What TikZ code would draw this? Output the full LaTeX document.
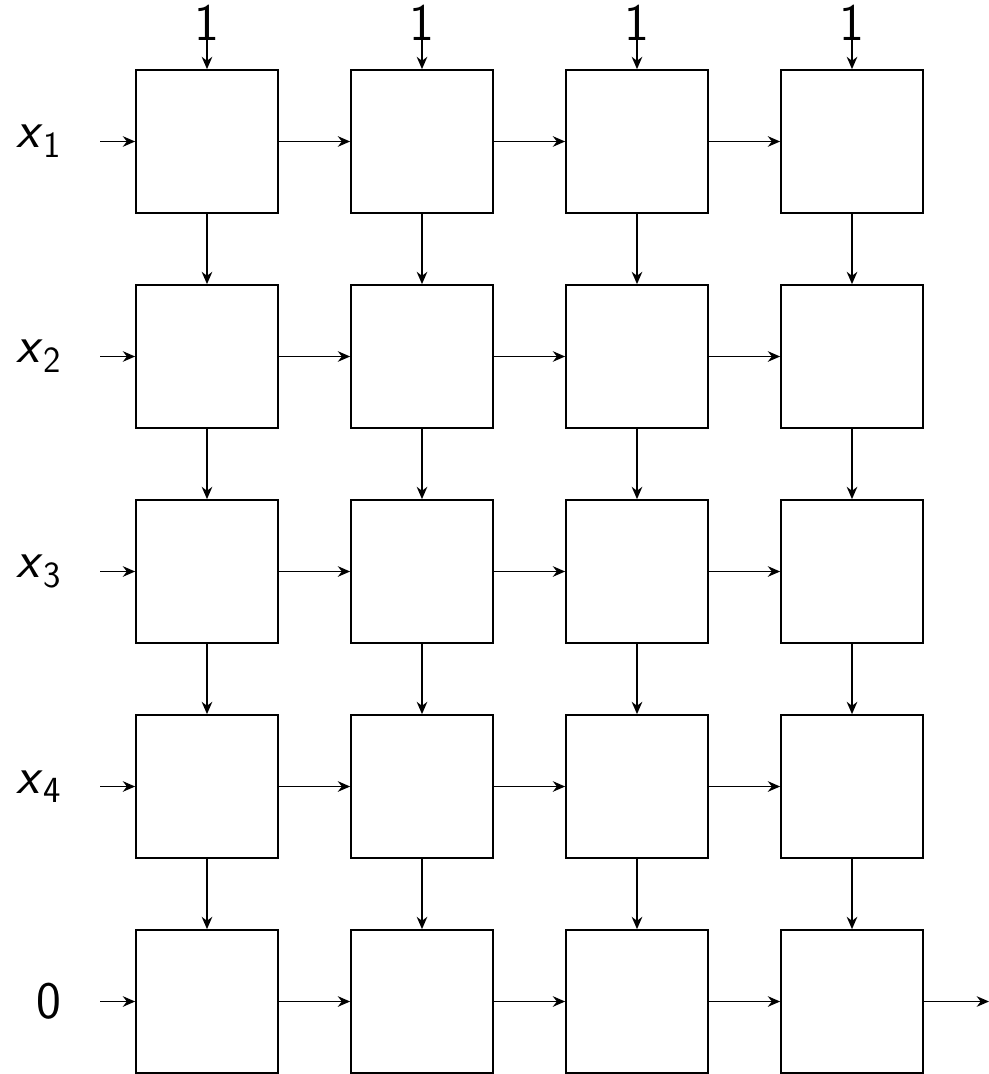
\documentclass[tikz,border=0pt]{standalone}
\usepackage{tikz}
\usetikzlibrary{arrows.meta}

\tikzset{
  cell/.style={draw, line width=1pt, minimum width=2.84cm, minimum height=2.86cm, inner sep=0pt},
  flow/.style={-{Stealth[length=7pt,width=6pt]}, line width=1pt},
  lab/.style={font=\fontsize{30}{36}\selectfont\sffamily, inner sep=0pt}
}
\newcommand{\xin}[1]{\textsl{x}\textsubscript{#1}}

\begin{document}
\begin{tikzpicture}[x=0.02cm, y=-0.02cm]
    \useasboundingbox (0,0) rectangle (989,1074);

    % grid of cells
    \foreach \r in {1,...,5} {
        \foreach \c in {1,...,4} {
            \node[cell] (c\r\c) at ({207+215*(\c-1)},{141.5+215*(\r-1)}) {};
        }
    }

    % top inputs
    \foreach \c in {1,...,4} {
        \node[lab] (one\c) at ({207+215*(\c-1)},23) {1};
        \coordinate (t\c) at ({207+215*(\c-1)},8);
        \draw[flow] (t\c) -- (c1\c.north);
    }

    % left inputs
    \foreach \r/\label in {1/\xin{1}, 2/\xin{2}, 3/\xin{3}, 4/\xin{4}, 5/0} {
        \node[lab, anchor=east] (in\r) at (62,{141.5+215*(\r-1)}) {\label};
        \coordinate (l\r) at (100,{141.5+215*(\r-1)});
        \draw[flow] (l\r) -- (c\r1.west);
    }

    % links between cells
    \foreach \r in {1,...,5} {
        \foreach \c/\n in {1/2, 2/3, 3/4} {
            \draw[flow] (c\r\c.east) -- (c\r\n.west);
        }
    }
    \foreach \r/\n in {1/2, 2/3, 3/4, 4/5} {
        \foreach \c in {1,...,4} {
            \draw[flow] (c\r\c.south) -- (c\n\c.north);
        }
    }

    % output
    \coordinate (out) at (989,1001.5);
    \draw[flow] (c54.east) -- (out);
\end{tikzpicture}
\end{document}
